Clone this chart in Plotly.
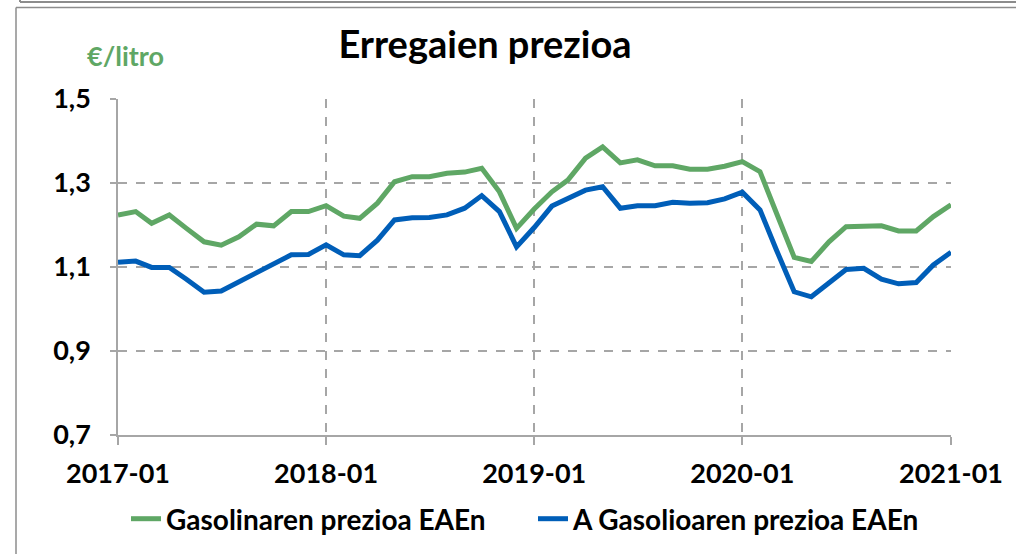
import pandas as pd
import plotly.graph_objects as go

months = [d.strftime("%Y-%m-%d") for d in pd.date_range("2017-01-01", "2021-01-01", freq="MS")]

gasolina = [1.224, 1.232, 1.204, 1.224, 1.192, 1.160, 1.152, 1.172, 1.202, 1.198, 1.232, 1.232,
            1.246, 1.221, 1.216, 1.252, 1.303, 1.315, 1.315, 1.323, 1.326, 1.335, 1.279, 1.192,
            1.238, 1.279, 1.307, 1.359, 1.386, 1.348, 1.355, 1.341, 1.341, 1.333, 1.333, 1.340,
            1.351, 1.327, 1.228, 1.123, 1.113, 1.160, 1.196, 1.198, 1.198, 1.186, 1.186, 1.220,
            1.248]
gasolioa = [1.111, 1.114, 1.099, 1.099, 1.071, 1.040, 1.043, 1.065, 1.089, 1.109, 1.129, 1.130,
            1.153, 1.129, 1.127, 1.164, 1.212, 1.217, 1.218, 1.224, 1.240, 1.270, 1.232, 1.148,
            1.194, 1.245, 1.264, 1.283, 1.291, 1.240, 1.246, 1.246, 1.254, 1.252, 1.253, 1.262,
            1.278, 1.236, 1.140, 1.041, 1.029, 1.061, 1.094, 1.097, 1.071, 1.060, 1.063, 1.105,
            1.135]

series_names = ["Gasolinaren prezioa EAEn", "A Gasolioaren prezioa EAEn"]
year_ticks = ["2017-01-01", "2018-01-01", "2019-01-01", "2020-01-01", "2021-01-01"]
year_labels = ["2017-01", "2018-01", "2019-01", "2020-01", "2021-01"]
y_ticks = [0.7, 0.9, 1.1, 1.3, 1.5]
y_labels = ["0,7", "0,9", "1,1", "1,3", "1,5"]

GREEN = "#5FA765"
BLUE = "#005EB8"
GRID = "#A6A6A6"
FONT = "Lato, sans-serif"

fig = go.Figure()
fig.add_trace(go.Scatter(x=months, y=gasolina, mode="lines", name="<b>%s</b>" % series_names[0],
                         line=dict(color=GREEN, width=5)))
fig.add_trace(go.Scatter(x=months, y=gasolioa, mode="lines", name="<b>%s</b>" % series_names[1],
                         line=dict(color=BLUE, width=5)))

L, R, T, B = 118, 65, 99, 119
W, H = 1016, 554
pw, ph = W - L - R, H - T - B

def px_x(p):
    return (p - L) / pw

def px_y(p):
    return (H - B - p) / ph

fig.update_layout(
    width=W, height=H,
    margin=dict(l=L, r=R, t=T, b=B, autoexpand=False),
    paper_bgcolor="white", plot_bgcolor="white",
    font=dict(family=FONT, color="black"),
    title=dict(text="<b>Erregaien prezioa</b>", x=485 / W, xanchor="center",
               y=1 - 45 / H, yanchor="middle", font=dict(size=38, family=FONT, color="black")),
    showlegend=True,
    legend=dict(orientation="h", x=px_x(126), xanchor="left", y=px_y(519), yanchor="middle",
                font=dict(size=28, family=FONT, color="black"), itemwidth=30,
                entrywidth=362, entrywidthmode="pixels",
                bgcolor="rgba(0,0,0,0)", traceorder="normal"),
    xaxis=dict(type="date", range=["2017-01-01", "2021-01-01"],
               tickvals=year_ticks, ticktext=["<b>%s</b>" % t for t in year_labels],
               showgrid=True, gridcolor=GRID, griddash="dash", gridwidth=1.5,
               showline=True, linecolor=GRID, linewidth=1.5,
               ticks="outside", ticklen=8, tickcolor=GRID, tickwidth=1.5,
               tickfont=dict(size=27, family=FONT, color="black"),
               ticklabelstandoff=6, zeroline=False, automargin=False),
    yaxis=dict(range=[0.7, 1.5], tickvals=y_ticks, ticktext=["<b>%s</b>" % t for t in y_labels],
               showgrid=True, gridcolor=GRID, griddash="dash", gridwidth=1.5,
               showline=True, linecolor=GRID, linewidth=1.5,
               ticks="outside", ticklen=6, tickcolor=GRID, tickwidth=1.5,
               tickfont=dict(size=27, family=FONT, color="black"),
               ticklabelstandoff=14, zeroline=False, automargin=False),
    annotations=[dict(text="<b>€/litro</b>", xref="paper", yref="paper",
                      x=px_x(125), y=px_y(55), xanchor="center", yanchor="middle",
                      showarrow=False, font=dict(size=27, family=FONT, color=GREEN))],
    shapes=[
        dict(type="line", xref="paper", yref="paper", x0=px_x(20), x1=px_x(1016),
             y0=px_y(2), y1=px_y(2), line=dict(color="#8C8C8C", width=2)),
        dict(type="line", xref="paper", yref="paper", x0=px_x(20), x1=px_x(20),
             y0=px_y(0), y1=px_y(2), line=dict(color="#8C8C8C", width=2)),
        dict(type="line", xref="paper", yref="paper", x0=px_x(16), x1=px_x(1016),
             y0=px_y(7.5), y1=px_y(7.5), line=dict(color="#8C8C8C", width=1.5)),
        dict(type="line", xref="paper", yref="paper", x0=px_x(16), x1=px_x(16),
             y0=px_y(7.5), y1=px_y(554), line=dict(color="#8C8C8C", width=1.5)),
    ],
)

fig.write_html("out.html", config={"displayModeBar": False},
               post_script="document.body.style.margin='0';")
